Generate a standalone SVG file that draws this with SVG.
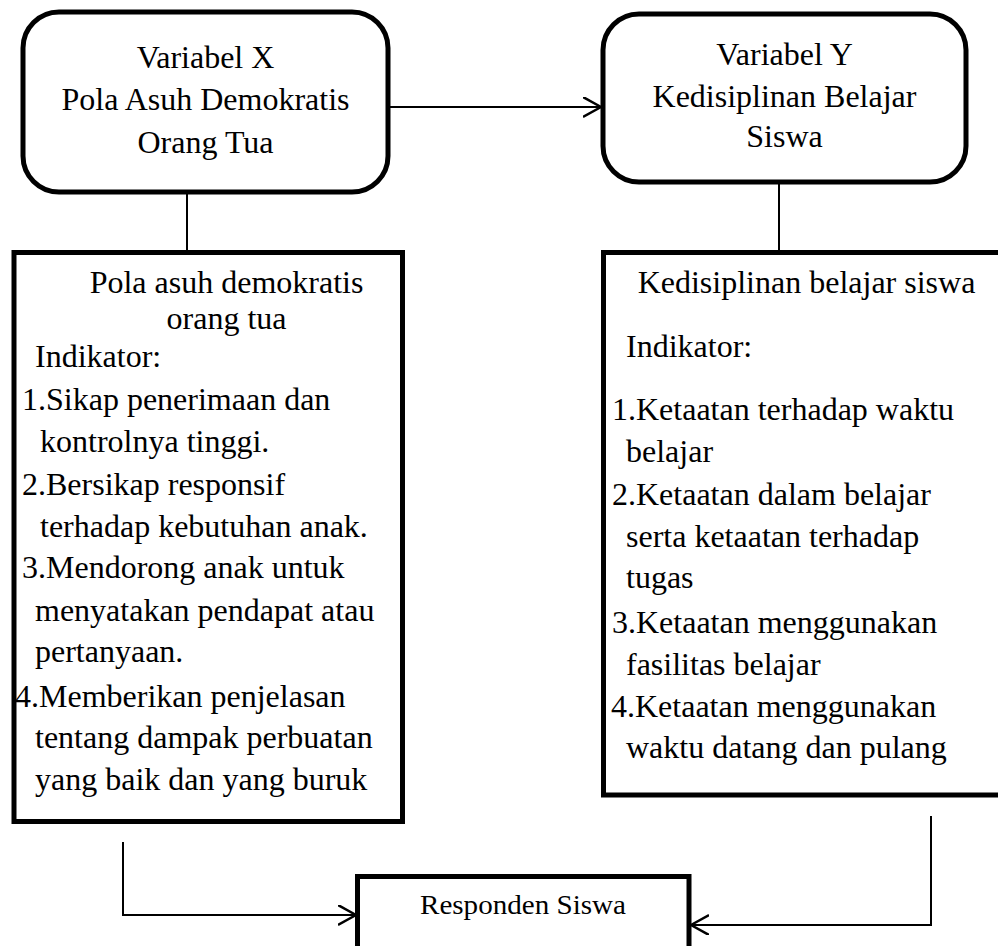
<svg xmlns="http://www.w3.org/2000/svg" width="998" height="946" viewBox="0 0 998 946">
<style>
.box{fill:#fff;stroke:#000;stroke-width:5}
.t{font-family:"Liberation Serif","Times New Roman",serif;font-size:32px;fill:#000}
.c{text-anchor:middle}
.ln{fill:none;stroke:#000;stroke-width:2}
</style>
<defs>
<marker id="ah" markerWidth="20" markerHeight="24" refX="18" refY="10" orient="auto" markerUnits="userSpaceOnUse">
<path d="M0,0 L18,10 L0,20" fill="none" stroke="#000" stroke-width="2.5"/>
</marker>
</defs>
<rect width="998" height="946" fill="#fff"/>
<g id="connectors">
<line class="ln" x1="390" y1="107" x2="601" y2="107" marker-end="url(#ah)"/>
<line class="ln" x1="187" y1="194" x2="187" y2="250"/>
<line class="ln" x1="779" y1="183" x2="779" y2="250"/>
<polyline class="ln" points="123,842 123,915 356,915" marker-end="url(#ah)"/>
<polyline class="ln" points="931,816 931,925 691,925" marker-end="url(#ah)"/>
</g>
<g id="varX">
<rect class="box" x="23" y="12" width="365" height="180" rx="36"/>
<text class="t c" x="205.5" y="68">Variabel X</text>
<text class="t c" x="205.5" y="110">Pola Asuh Demokratis</text>
<text class="t c" x="205.5" y="153">Orang Tua</text>
</g>
<g id="varY">
<rect class="box" x="603" y="14" width="363" height="168" rx="36"/>
<text class="t c" x="784.5" y="65">Variabel Y</text>
<text class="t c" x="784.5" y="107">Kedisiplinan Belajar</text>
<text class="t c" x="784.5" y="147">Siswa</text>
</g>
<g id="indX">
<rect class="box" x="14" y="252.5" width="388.5" height="569"/>
<text class="t c" x="226.5" y="293">Pola asuh demokratis</text>
<text class="t c" x="226.5" y="329">orang tua</text>
<text class="t" x="35" y="367">Indikator:</text>
<text class="t" x="22" y="410">1.Sikap penerimaan dan</text>
<text class="t" x="40" y="452">kontrolnya tinggi.</text>
<text class="t" x="22" y="495">2.Bersikap responsif</text>
<text class="t" x="40" y="537">terhadap kebutuhan anak.</text>
<text class="t" x="22" y="578">3.Mendorong anak untuk</text>
<text class="t" x="35" y="621">menyatakan pendapat atau</text>
<text class="t" x="35" y="662">pertanyaan.</text>
<text class="t" x="15" y="707">4.Memberikan penjelasan</text>
<text class="t" x="35" y="748">tentang dampak perbuatan</text>
<text class="t" x="35" y="790">yang baik dan yang buruk</text>
</g>
<g id="indY">
<rect class="box" x="603.5" y="252.5" width="420" height="542.5"/>
<text class="t c" x="806.5" y="293">Kedisiplinan belajar siswa</text>
<text class="t" x="626" y="357">Indikator:</text>
<text class="t" x="612" y="420">1.Ketaatan terhadap waktu</text>
<text class="t" x="626" y="462">belajar</text>
<text class="t" x="612" y="505">2.Ketaatan dalam belajar</text>
<text class="t" x="626" y="547">serta ketaatan terhadap</text>
<text class="t" x="626" y="588">tugas</text>
<text class="t" x="612" y="633">3.Ketaatan menggunakan</text>
<text class="t" x="626" y="675">fasilitas belajar</text>
<text class="t" x="611" y="717">4.Ketaatan menggunakan</text>
<text class="t" x="626" y="758">waktu datang dan pulang</text>
</g>
<g id="responden">
<rect class="box" x="357.5" y="876.5" width="331.5" height="90"/>
<text class="t" x="420" y="914" style="font-size:27px" textLength="206" lengthAdjust="spacingAndGlyphs">Responden Siswa</text>
</g>
</svg>
